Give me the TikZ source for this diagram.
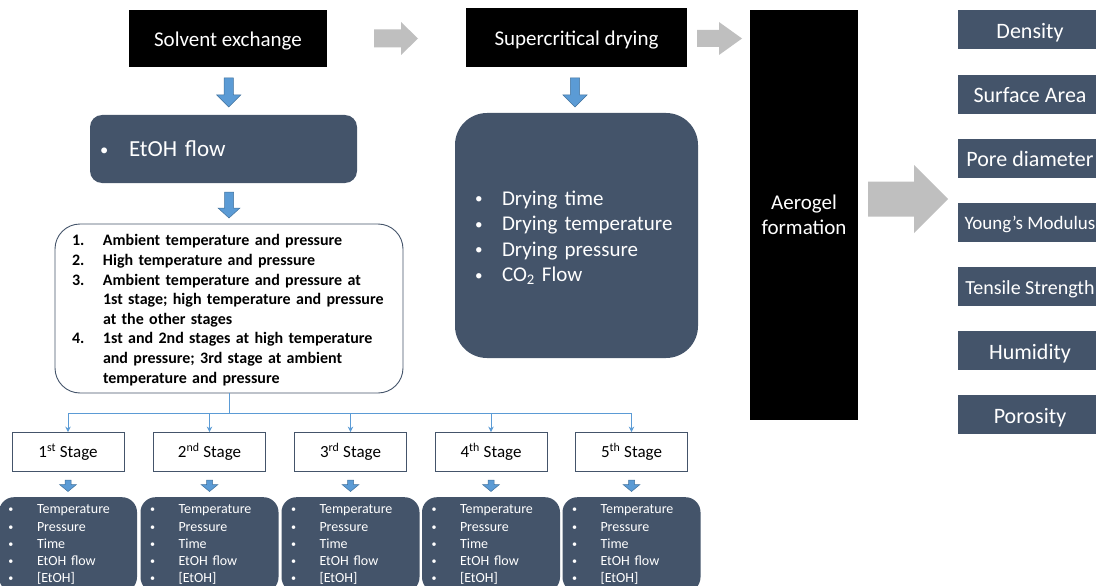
\documentclass[tikz,border=0pt]{standalone}
\usepackage{fontspec}
\usepackage{graphicx}
\setmainfont{Carlito}
\usetikzlibrary{arrows.meta}

\definecolor{slate}{HTML}{44546A}
\definecolor{flowblue}{HTML}{5B9BD5}
\definecolor{flowedge}{HTML}{41719C}
\definecolor{arrowgrey}{HTML}{BFBFBF}

% small bullet followed by a fixed gap before the item text
\newcommand\bul[1]{\makebox[#1][l]{\raisebox{0.07em}{\scalebox{0.72}{\textbullet}}}}

\tikzset{
  blackbox/.style={fill=black, text=white, inner sep=0pt,
    font=\fontsize{21}{25}\selectfont},
  slatebox/.style={fill=slate, text=white, align=left},
  listbox/.style={draw=slate, line width=0.9pt, fill=white, rounded corners=25pt,
    align=left, inner ysep=0pt},
  stagebox/.style={draw=slate, line width=0.8pt, fill=white, minimum width=112pt,
    minimum height=39pt, inner sep=0pt, font=\fontsize{17}{20}\selectfont},
  paramsbox/.style={fill=slate, text=white, rounded corners=15pt, anchor=north,
    minimum width=138pt, minimum height=95pt, text width=119pt, inner xsep=9.5pt,
    align=left, font=\fontsize{14}{17.2}\selectfont},
  propbox/.style={fill=slate, text=white, minimum width=144pt, minimum height=39pt,
    inner sep=0pt, font=\fontsize{22}{26}\selectfont, text height=20pt, text depth=3pt},
  conn/.style={draw=flowblue, line width=1pt, -{Stealth[length=5.5pt,width=5.5pt]}},
  tree/.style={draw=flowblue, line width=1pt},
  blueshape/.style={fill=flowblue, draw=flowedge, line width=0.5pt},
  greyshape/.style={fill=arrowgrey},
  % block arrow pointing down: shaft half width, head half width, length, head length
  pics/downarrow/.style n args={4}{code={
    \path[blueshape] (-#1,0) -- (#1,0) -- (#1,{#3-#4}) -- (#2,{#3-#4}) -- (0,#3)
      -- (-#2,{#3-#4}) -- (-#1,{#3-#4}) -- cycle;}},
  % block arrow pointing right: shaft half height, head half height, length, head length
  pics/rightarrow/.style n args={4}{code={
    \path[greyshape] (0,-#1) -- ({#3-#4},-#1) -- ({#3-#4},-#2) -- (#3,0)
      -- ({#3-#4},#2) -- ({#3-#4},#1) -- (0,#1) -- cycle;}},
}

\begin{document}
\begin{tikzpicture}[x=1pt,y=-1pt]
\useasboundingbox (0,0) rectangle (1096,586);
\clip (0,0) rectangle (1096,586);

% process steps along the top
\node[blackbox, minimum width=198pt, minimum height=57pt, text height=20pt, text depth=3pt]
  (solv) at (228,38.5) {Solvent exchange};
\node[blackbox, minimum width=221pt, minimum height=59pt, text height=20pt, text depth=3pt]
  (scd) at (576.5,37.5) {Supercritical drying};
\node[blackbox, minimum width=108pt, minimum height=410pt, align=center]
  (aero) at (804,215) {Aerogel\\formation};

\pic at (374,38.5) {rightarrow={9}{16.5}{44}{17}};
\pic at (697,38.5) {rightarrow={8.5}{16.5}{45}{23}};
\pic at (868,199) {rightarrow={17.5}{34}{80}{34}};

% solvent exchange branch
\pic at (228.7,78) {downarrow={4.7}{12}{29}{12}};
\node[slatebox, rounded corners=12pt, minimum width=267pt, minimum height=68pt,
  text width=247pt, inner xsep=10pt, font=\fontsize{23}{28}\selectfont] (etoh)
  at (223.5,149) {\bul{29pt}EtOH flow};

\pic at (229,192) {downarrow={4.5}{11}{26}{10}};
\node[listbox, minimum width=348pt, minimum height=169pt, text width=314pt, inner xsep=17pt,
  font=\bfseries\fontsize{16}{19.6}\selectfont] (modes) at (229,308.5) {%
  \raisebox{-2pt}[\height][\depth]{\begin{tabular}{@{}p{31pt}@{}l@{}}
  1. & Ambient temperature and pressure\\
  2. & High temperature and pressure\\
  3. & Ambient temperature and pressure at\\
     & 1st stage; high temperature and pressure\\
     & at the other stages\\
  4. & 1st and 2nd stages at high temperature\\
     & and pressure; 3rd stage at ambient\\
     & temperature and pressure
  \end{tabular}}};

% stages
\node[stagebox] (s1) at (68,452) {1\textsuperscript{st} Stage};
\node[stagebox] (s2) at (209.5,452) {2\textsuperscript{nd} Stage};
\node[stagebox] (s3) at (350.5,452) {3\textsuperscript{rd} Stage};
\node[stagebox] (s4) at (491,452) {4\textsuperscript{th} Stage};
\node[stagebox] (s5) at (631.5,452) {5\textsuperscript{th} Stage};

\coordinate (split) at (229,413);
\draw[tree] (modes.south) -- (split);
\foreach \i in {1,...,5} \draw[conn] (split) -| (s\i.north);

\foreach \i/\x in {1/68,2/209.5,3/350.5,4/491,5/631.5} {
  \pic at (\x,480) {downarrow={3}{8.5}{11.5}{7}};
  \node[paramsbox] (p\i) at (\x,497) {%
    \bul{28.5pt}Temperature\\
    \bul{28.5pt}Pressure\\
    \bul{28.5pt}Time\\
    \bul{28.5pt}EtOH flow\\
    \bul{28.5pt}[EtOH]};
}

% supercritical drying branch
\pic at (575,78) {downarrow={4.7}{12}{29}{12}};
\node[slatebox, rounded corners=32pt, minimum width=243pt, minimum height=245pt,
  text width=203pt, inner xsep=20pt, font=\fontsize{21}{25.5}\selectfont] (dry)
  at (576.5,235.5) {%
  \raisebox{-3pt}[\height][\depth]{\begin{tabular}{@{}l@{}}
  \bul{27pt}Drying time\\
  \bul{27pt}Drying temperature\\
  \bul{27pt}Drying pressure\\
  \bul{27pt}CO\textsubscript{2} Flow
  \end{tabular}}};

% aerogel properties
\node[propbox] (density) at (1030,30) {Density};
\node[propbox] (surface) at (1030,94.1) {Surface Area};
\node[propbox] (pore) at (1030,158.2) {Pore diameter};
\node[propbox, font=\fontsize{19}{22}\selectfont, text height=18pt] (young) at (1030,222.3) {Young’s Modulus};
\node[propbox, font=\fontsize{20}{24}\selectfont, text height=19pt] (tensile) at (1030,286.4) {Tensile Strength};
\node[propbox] (humid) at (1030,350.5) {Humidity};
\node[propbox] (poros) at (1030,414.6) {Porosity};
\end{tikzpicture}
\end{document}
